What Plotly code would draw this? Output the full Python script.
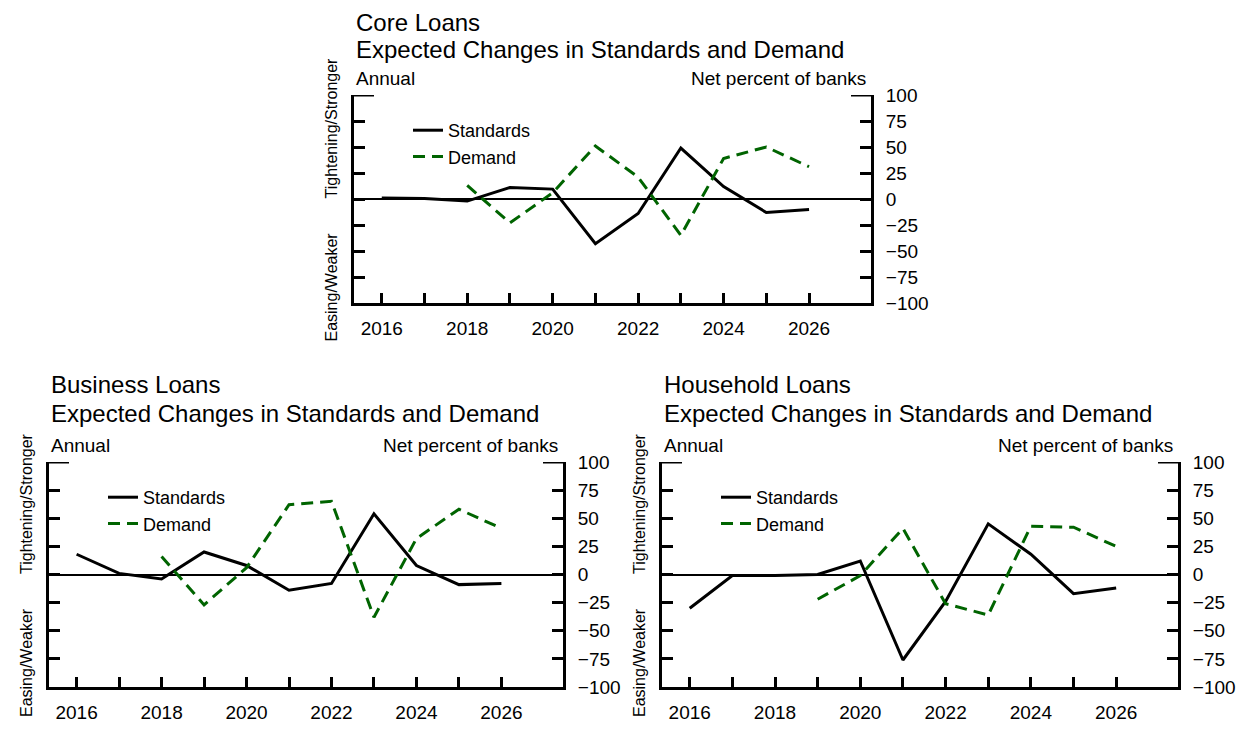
import plotly.graph_objects as go

W, H = 1250, 736
OFF = 8  # page margin of the browser body

years = [2016, 2017, 2018, 2019, 2020, 2021, 2022, 2023, 2024, 2025, 2026]
tick_text = ["2016", "", "2018", "", "2020", "", "2022", "", "2024", "", "2026"]
y_ticks = [-100, -75, -50, -25, 0, 25, 50, 75, 100]

# Core loans
core_standards = [1, 0.5, -2, 11, 9.5, -43, -14, 49, 12, -13, -10]
core_demand = [None, None, 13, -23, 6, 51, 21, -35, 39, 50, 31]

# Business loans
bus_standards = [18, 1, -4, 20, 8, -14, -8, 54, 8, -9, -8]
bus_demand = [None, None, 16, -27, 6, 62, 65, -38, 32, 58, 41]

# Household loans
hh_standards = [-30, -1, -1, 0, 12, -76, -24, 45, 18, -17, -12]
hh_demand = [None, None, None, -22, -1, 41, -26, -36, 43, 42, 25]

titles = ["Core Loans", "Business Loans", "Household Loans"]
subtitle = "Expected Changes in Standards and Demand"

FONT = "Liberation Sans, Arial, sans-serif"
GREEN = "#006400"


def fx(x):
    return (x - OFF) / W


def fy(y):
    return 1 - (y - OFF) / H


# panel boxes in pixels: left, right, top, bottom
panels = [
    (354, 871, 95, 303),
    (49, 563, 462, 687),
    (662, 1178, 462, 687),
]
# pixel rows of the two title lines
title_rows = [(22, 50), (384, 413), (384, 413)]
data = [
    (core_standards, core_demand),
    (bus_standards, bus_demand),
    (hh_standards, hh_demand),
]

fig = go.Figure()
annotations = []
shapes = []

for i, ((l, r, t, b), (std, dem)) in enumerate(zip(panels, data)):
    n = "" if i == 0 else str(i + 1)
    xa, ya = "x" + n, "y" + n
    leg = "legend" + n
    fig.add_trace(go.Scatter(x=years, y=std, mode="lines", name="Standards",
                             line=dict(color="black", width=3),
                             xaxis=xa, yaxis=ya, legend=leg))
    fig.add_trace(go.Scatter(x=years, y=dem, mode="lines", name="Demand",
                             line=dict(color=GREEN, width=3, dash="12px,7px"),
                             xaxis=xa, yaxis=ya, legend=leg))

    fig.update_layout({
        "xaxis" + n: dict(domain=[fx(l), fx(r)], anchor=ya, range=[2015.35, 2027.45],
                          tickvals=years, ticktext=tick_text, ticks="inside",
                          ticklen=10, tickwidth=2.5, tickcolor="black",
                          showline=True, linewidth=3, linecolor="black",
                          showgrid=False, zeroline=False, ticklabelstandoff=6,
                          automargin=False,
                          tickfont=dict(size=19, color="black")),
        "yaxis" + n: dict(domain=[fy(b), fy(t)], anchor=xa, range=[-100, 100],
                          side="right", tickvals=y_ticks, ticks="inside",
                          ticklen=11, tickwidth=3, tickcolor="black",
                          showline=True, linewidth=3, linecolor="black",
                          mirror="ticks", showgrid=False, zeroline=True,
                          zerolinecolor="black", zerolinewidth=2,
                          ticklabelstandoff=8, automargin=False,
                          tickfont=dict(size=19, color="black")),
        leg: dict(x=fx(l + 54), y=fy(t + 17), xanchor="left", yanchor="top",
                  bgcolor="rgba(0,0,0,0)", font=dict(size=18, family=FONT),
                  tracegroupgap=0, itemwidth=30),
    })

    # corner caps at the top of the box
    for x0, x1 in [(0, 20 / (r - l)), (1 - 20 / (r - l), 1)]:
        shapes.append(dict(type="line", xref=xa + " domain", yref=ya,
                           x0=x0, x1=x1, y0=100, y1=100,
                           line=dict(color="black", width=3)))

    # titles
    row1, row2 = title_rows[i]
    annotations += [
        dict(text=titles[i], x=fx(l), y=fy(row1), xanchor="left", yanchor="middle",
             font=dict(size=24)),
        dict(text=subtitle, x=fx(l), y=fy(row2), xanchor="left", yanchor="middle",
             font=dict(size=24)),
        dict(text="Annual", x=fx(l), y=fy(t - 17), xanchor="left", yanchor="middle",
             font=dict(size=19)),
        dict(text="Net percent of banks", x=fx(r - 3), y=fy(t - 17), xanchor="right",
             yanchor="middle", font=dict(size=19)),
    ]
    # side labels
    zero_y = (t + b) / 2
    annotations += [
        dict(text="Tightening/Stronger", x=fx(l - 23), y=fy(zero_y + 2),
             xanchor="center", yanchor="bottom", textangle=-90, font=dict(size=16)),
        dict(text="Easing/Weaker", x=fx(l - 23), y=fy(zero_y + 32),
             xanchor="center", yanchor="top", textangle=-90, font=dict(size=16)),
    ]

for a in annotations:
    a.update(xref="paper", yref="paper", showarrow=False)

fig.update_layout(
    width=W, height=H,
    margin=dict(l=0, r=0, t=0, b=0, autoexpand=False),
    paper_bgcolor="white", plot_bgcolor="white",
    font=dict(family=FONT, color="black"),
    annotations=annotations,
    shapes=shapes,
    showlegend=True,
)

fig.write_html("out.html")
